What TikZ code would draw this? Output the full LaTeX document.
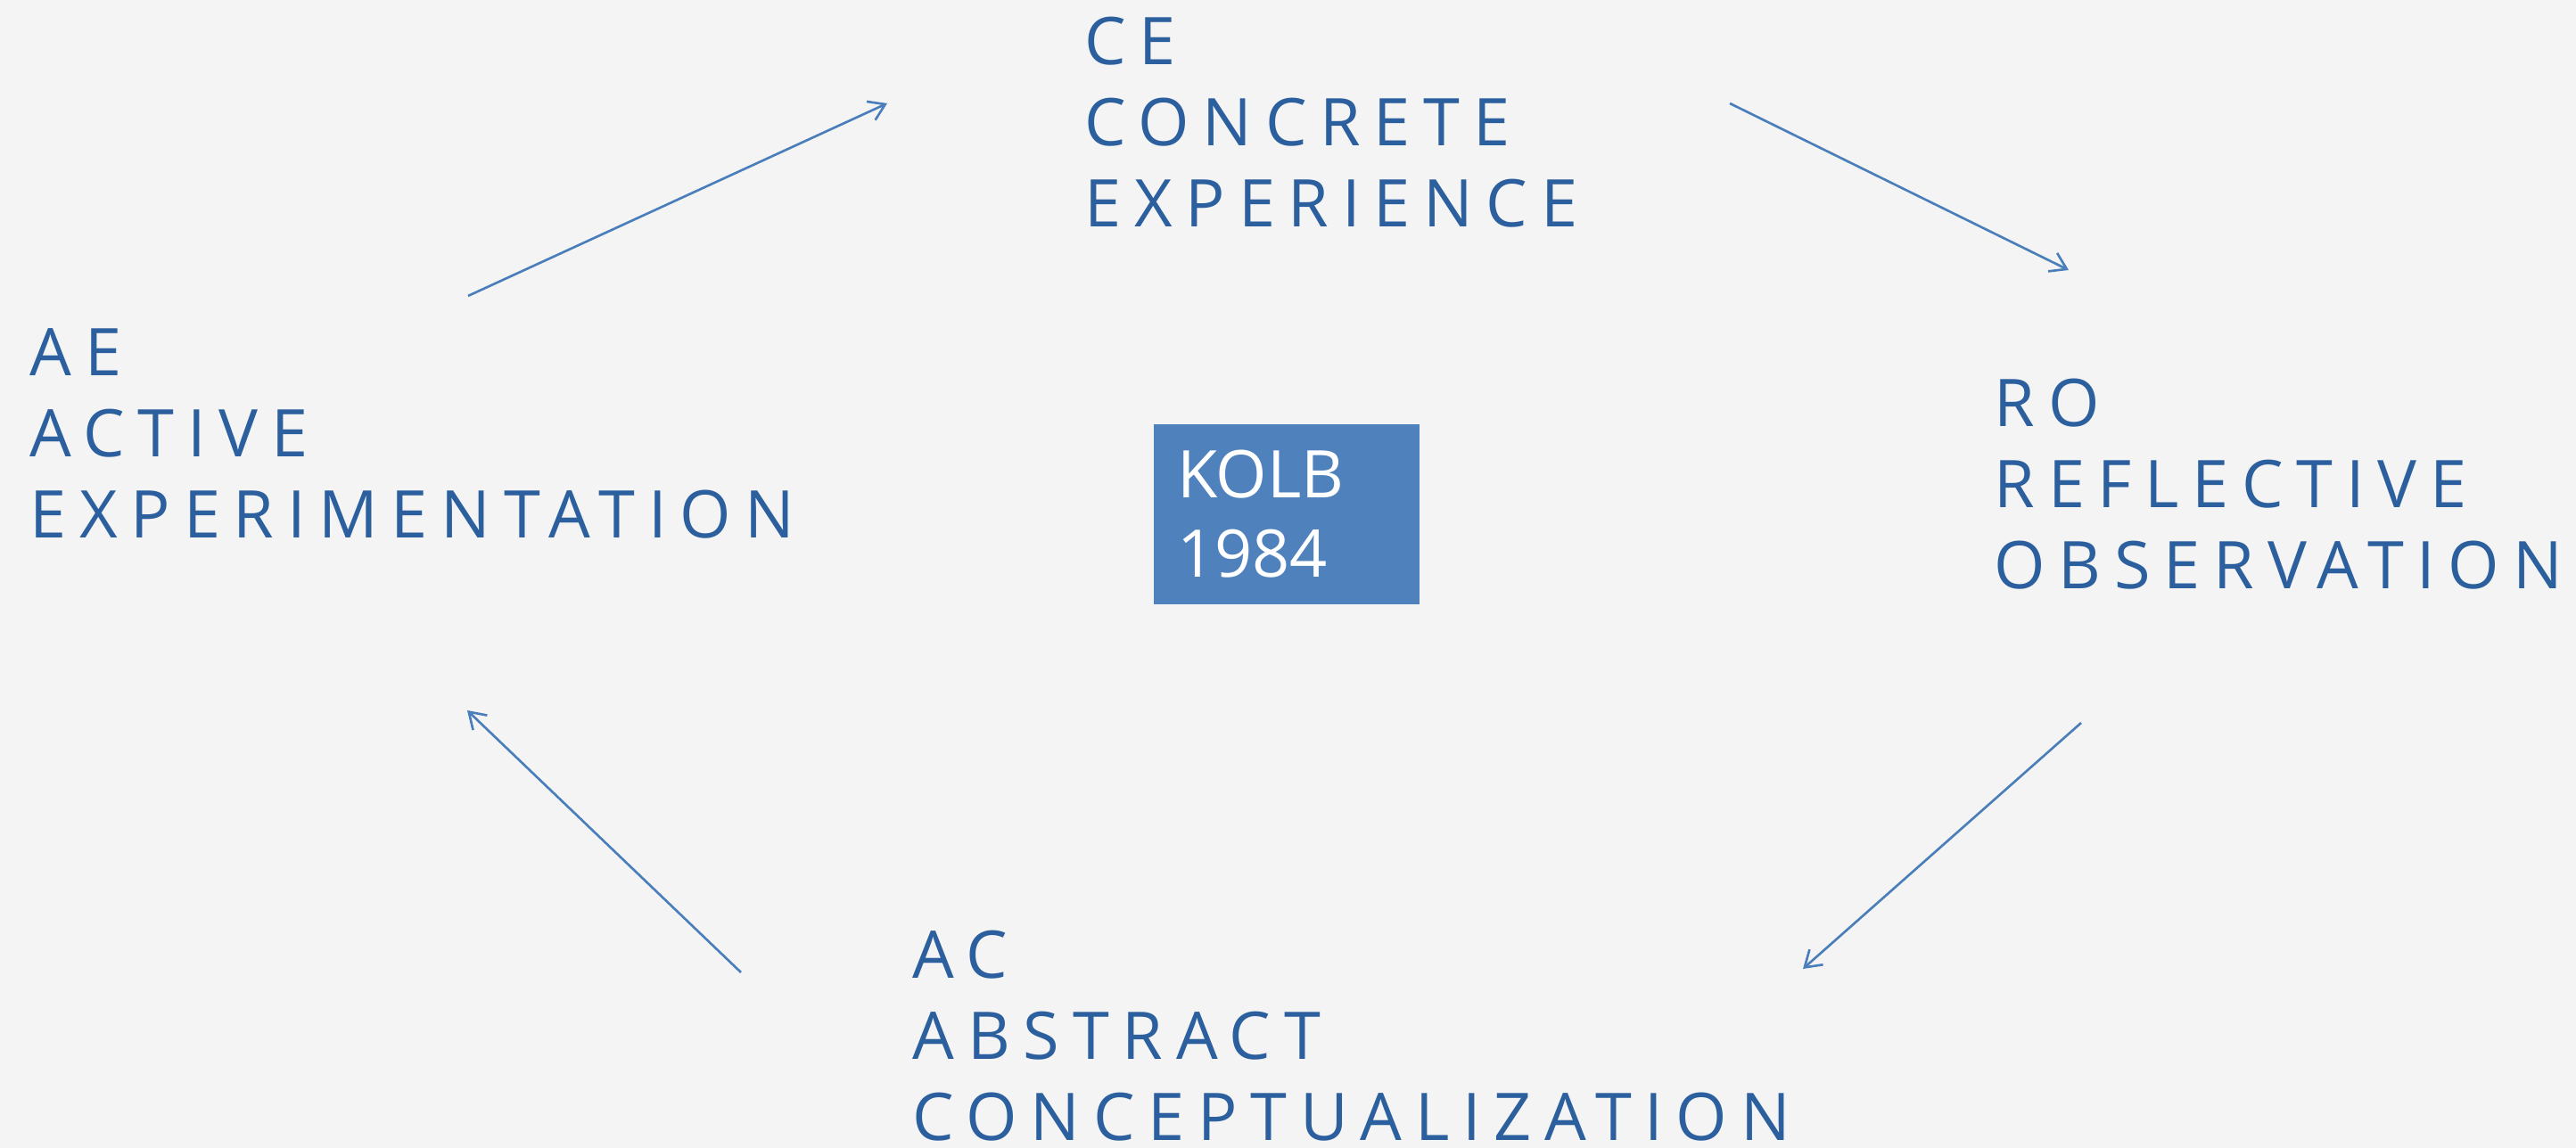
\documentclass[tikz,border=0pt]{standalone}
\usepackage{fontspec}
\usetikzlibrary{arrows.meta,positioning}
\newfontfamily\stagefont{Open Sans}[LetterSpace=20]
\newfontfamily\yearfont{Open Sans}
\definecolor{stageblue}{HTML}{2C5F9E}
\definecolor{boxblue}{HTML}{4F81BD}
\definecolor{arrowblue}{HTML}{4A7EBB}
\definecolor{paper}{HTML}{F4F4F4}

\begin{document}
\begin{tikzpicture}[
    stage/.style={anchor=north west,inner sep=0pt,align=left,text=stageblue,font=\stagefont\fontsize{21pt}{25.9pt}\selectfont},
    cyclearrow/.style={draw=arrowblue,line width=0.75pt,-{Straight Barb[length=5pt,width=6.5pt]}},
    kolbbox/.style={fill=boxblue,minimum width=2.98cm,minimum height=2.02cm,text width=2.46cm,inner xsep=0.26cm,align=left,text=white,font=\yearfont\fontsize{21pt}{25.3pt}\selectfont}
]
    \fill[paper] (0,0) rectangle (28.89,12.88);
    \useasboundingbox (0,0) rectangle (28.89,12.88);

    \node (ce) [stage] at (12.16,12.70) {CE\\CONCRETE\\EXPERIENCE};
    \node (ro) [stage] at (22.36,8.64) {RO\\REFLECTIVE\\OBSERVATION};
    \node (ac) [stage] at (10.23,2.45) {AC\\ABSTRACT\\CONCEPTUALIZATION};
    \node (ae) [stage] at (0.33,9.20) {AE\\ACTIVE\\EXPERIMENTATION};
    \node (kolb) [kolbbox] at (14.43,7.11) {KOLB\\1984};

    \coordinate (ae-out) at (5.25,9.56);
    \coordinate (ce-in) at (9.95,11.72);
    \coordinate (ce-out) at (19.40,11.72);
    \coordinate (ro-in) at (23.20,9.85);
    \coordinate (ro-out) at (23.34,4.77);
    \coordinate (ac-in) at (20.22,2.01);
    \coordinate (ac-out) at (8.31,1.97);
    \coordinate (ae-in) at (5.24,4.91);

    \draw[cyclearrow] (ae-out) -- (ce-in);
    \draw[cyclearrow] (ce-out) -- (ro-in);
    \draw[cyclearrow] (ro-out) -- (ac-in);
    \draw[cyclearrow] (ac-out) -- (ae-in);
\end{tikzpicture}
\end{document}
